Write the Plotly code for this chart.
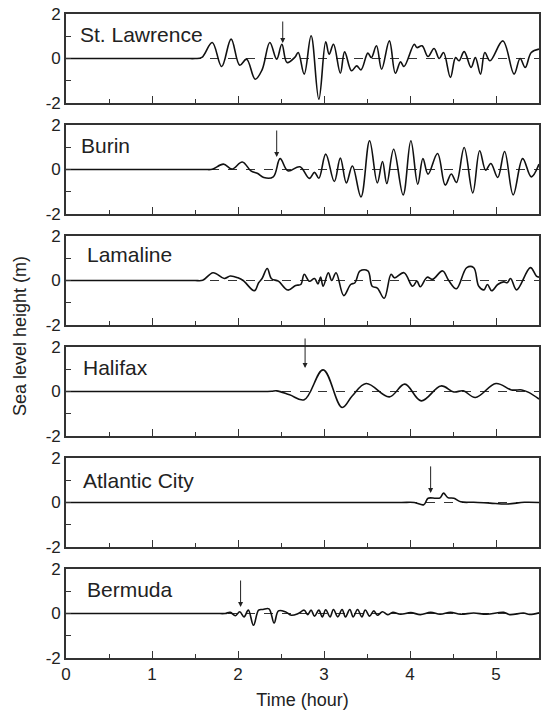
import plotly.graph_objects as go
from plotly.subplots import make_subplots

# ---------------- data (time in hours, sea level in m) ----------------
stations = ["St. Lawrence", "Burin", "Lamaline", "Halifax", "Atlantic City", "Bermuda"]

stl_t = [0, 0.5, 1.0, 1.40, 1.50, 1.58, 1.70, 1.81, 1.92, 2.02, 2.10, 2.20, 2.28, 2.37, 2.45, 2.51, 2.57, 2.66, 2.70,
         2.77, 2.85, 2.94, 3.02, 3.06, 3.11, 3.19, 3.24, 3.32, 3.38, 3.43, 3.51, 3.55, 3.61, 3.67, 3.76,
         3.83, 3.89, 3.93, 4.05, 4.08, 4.14, 4.21, 4.28, 4.34, 4.39, 4.47, 4.53, 4.57, 4.63, 4.71, 4.76,
         4.82, 4.87, 4.93, 5.08, 5.21, 5.28, 5.34, 5.41, 5.50]
stl_v = [0, 0, 0, 0, 0, 0.05, 0.72, -0.36, 0.87, -0.30, -0.03, -0.93, -0.51, 0.72, -0.03, 0.64, -0.18, 0.05, 0.27,
         -0.70, 1.02, -1.83, 0.75, 0.19, 0.64, -0.66, 0.30, -0.55, -0.33, -0.51, 0.24, 0.04, 0.57, -0.48, 0.79,
         -0.66, -0.15, -0.36, 0.64, 0.49, 0.57, 0.09, 0.45, 0.0, 0.27, -0.85, 0.04, -0.10, 0.31, -0.40, 0.04,
         -0.70, 0.27, -0.10, 0.79, -0.70, 0.0, -0.40, 0.27, 0.42]

bur_t = [0, 0.5, 1.0, 1.5, 1.62, 1.70, 1.83, 1.93, 2.05, 2.15, 2.23, 2.30, 2.41, 2.49, 2.58, 2.72, 2.83, 2.89, 2.94, 3.02,
         3.12, 3.19, 3.26, 3.33, 3.43, 3.53, 3.62, 3.68, 3.73, 3.81, 3.92, 4.01, 4.09, 4.15, 4.21, 4.32,
         4.41, 4.48, 4.54, 4.63, 4.73, 4.81, 4.88, 4.94, 5.02, 5.10, 5.20, 5.31, 5.41, 5.50]
bur_v = [0, 0, 0, 0, 0, 0.01, 0.24, 0.02, 0.34, -0.06, -0.18, -0.36, -0.33, 0.49, -0.06, 0.12, -0.40, -0.13, -0.39, 0.69,
         -0.54, 0.51, -0.60, 0.16, -1.23, 1.29, -0.60, 0.36, -0.63, 0.91, -1.14, 1.29, -0.66, 0.49, -0.21, 0.72,
         -0.70, -0.20, -0.58, 0.99, -1.05, 0.84, -0.03, 0.27, -0.36, 0.81, -1.14, 0.49, -0.33, 0.24]

lam_t = [0, 0.5, 1.0, 1.4, 1.50, 1.59, 1.71, 1.84, 1.91, 2.00, 2.06, 2.19, 2.24, 2.28, 2.34, 2.39, 2.47, 2.58, 2.67, 2.73,
         2.77, 2.83, 2.89, 2.93, 2.96, 2.99, 3.05, 3.09, 3.14, 3.23, 3.31, 3.36, 3.42, 3.51, 3.56, 3.62,
         3.70, 3.78, 3.82, 3.93, 4.03, 4.08, 4.12, 4.20, 4.26, 4.38, 4.45, 4.54, 4.66, 4.74, 4.80, 4.86,
         4.90, 4.95, 5.02, 5.09, 5.13, 5.17, 5.24, 5.40, 5.47, 5.50]
lam_v = [0, 0, 0, 0, 0, 0.01, 0.35, 0.09, 0.20, 0.12, 0.0, -0.46, -0.10, 0.09, 0.54, 0.08, -0.03, -0.43, -0.22, -0.18,
         0.28, -0.03, 0.09, -0.15, 0.15, -0.26, 0.35, 0.0, 0.35, -0.68, -0.18, -0.10, 0.43, 0.43, -0.26, -0.34,
         -0.80, 0.28, 0.12, 0.35, -0.26, -0.03, -0.28, 0.15, 0.05, 0.43, 0.0, -0.37, 0.58, 0.58, -0.26, -0.42,
         -0.18, -0.46, -0.18, -0.06, -0.10, 0.09, -0.42, 0.58, 0.20, 0.15]

hal_t = [0, 0.5, 1.0, 1.5, 2.0, 2.25, 2.39, 2.45, 2.60, 2.77, 2.99, 3.21, 3.33, 3.49, 3.76, 3.94, 4.13, 4.36, 4.51, 4.62, 4.76, 5.00,
         5.18, 5.30, 5.38, 5.50]
hal_v = [0, 0, 0, 0, 0, 0, 0.01, 0.03, -0.15, -0.37, 0.97, -0.72, -0.19, 0.36, -0.24, 0.33, -0.42, 0.25, -0.02, 0.03, -0.27, 0.36,
         0.07, 0.07, -0.04, -0.34]

atl_t = [0, 0.5, 1.0, 1.5, 2.0, 2.5, 3.0, 3.5, 3.9, 4.05, 4.16, 4.21, 4.30, 4.35, 4.39, 4.44, 4.51, 4.59, 4.74, 4.93, 5.13, 5.33, 5.50]
atl_v = [0, 0, 0, 0, 0, 0, 0, 0, 0, 0, -0.10, 0.19, 0.19, 0.21, 0.42, 0.22, 0.19, 0.03, 0.01, -0.03, -0.07, 0.01, 0.0]

ber_t = [0, 0.5, 1.0, 1.5, 1.75, 1.85, 1.91, 1.97, 2.02, 2.07, 2.12, 2.18, 2.24, 2.29, 2.36, 2.42, 2.47, 2.55, 2.62, 2.70,
         2.77, 2.81, 2.85, 2.89, 2.94, 2.98, 3.02, 3.07, 3.11, 3.16, 3.21, 3.25, 3.30, 3.34, 3.39, 3.44,
         3.48, 3.53, 3.58, 3.62, 3.68, 3.74, 3.80, 3.89, 4.01, 4.12, 4.24, 4.35, 4.47, 4.59, 4.74, 4.89,
         5.09, 5.16, 5.32, 5.39, 5.50]
ber_v = [0, 0, 0, 0, 0, 0, 0.05, -0.10, 0.08, -0.15, 0.15, -0.53, 0.15, 0.18, 0.21, -0.43, 0.12, 0.08, -0.08, 0.0,
         0.15, -0.05, 0.15, -0.12, 0.15, -0.15, 0.17, -0.15, 0.18, -0.15, 0.18, -0.15, 0.18, -0.15, 0.18, -0.15,
         0.16, -0.12, 0.12, -0.08, 0.08, -0.05, 0.05, -0.03, 0.04, -0.05, 0.05, -0.03, 0.05, -0.03, 0.02, -0.03,
         0.05, -0.05, 0.02, -0.04, 0.03]

series_t = [stl_t, bur_t, lam_t, hal_t, atl_t, ber_t]
series_v = [stl_v, bur_v, lam_v, hal_v, atl_v, ber_v]

# arrival arrows: time, arrow top, arrow tip (None = no arrow)
arrow_t = [2.52, 2.45, None, 2.78, 4.24, 2.03]
arrow_top = [1.73, 1.82, None, 2.45, 1.69, 1.55]
arrow_tip = [0.70, 0.56, None, 1.06, 0.43, 0.29]

label_x = [0.14, 0.15, 0.22, 0.18, 0.17, 0.22]
label_y = [1.06, 1.10, 1.19, 1.06, 1.01, 1.06]

zero_t = [0, 5.5]
zero_v = [0, 0]

x_major = [0, 1, 2, 3, 4, 5]
y_major = [-2, 0, 2]
y_labels = ["-2", "0", "2"]

# ---------------- figure ----------------
FONT = "Liberation Sans, Arial, Helvetica, sans-serif"
fig = make_subplots(rows=6, cols=1, shared_xaxes=True, vertical_spacing=22 / 644)

for i in range(6):
    r = i + 1
    fig.add_trace(go.Scatter(x=zero_t, y=zero_v, mode="lines",
                             line=dict(color="#333", width=1, dash="dash"),
                             showlegend=False, hoverinfo="skip"), row=r, col=1)
    fig.add_trace(go.Scatter(x=series_t[i], y=series_v[i], mode="lines",
                             line=dict(color="#111", width=1.6, shape="spline", smoothing=1.05),
                             showlegend=False), row=r, col=1)
    xref = "x" if r == 1 else f"x{r}"
    yref = "y" if r == 1 else f"y{r}"
    fig.add_annotation(x=label_x[i], y=label_y[i], xref=xref, yref=yref, text=stations[i],
                       showarrow=False, xanchor="left", yanchor="middle",
                       font=dict(family=FONT, size=21, color="#222"))
    if arrow_t[i] is not None:
        fig.add_annotation(x=arrow_t[i], y=arrow_tip[i], ax=arrow_t[i], ay=arrow_top[i],
                           xref=xref, yref=yref, axref=xref, ayref=yref, text="",
                           showarrow=True, arrowhead=2, arrowsize=1, arrowwidth=1,
                           arrowcolor="#222")
    fig.update_yaxes(row=r, col=1, range=[-2, 2], tickvals=y_major, ticktext=y_labels,
                     ticks="inside", ticklen=5,
                     showline=True, mirror=True, linecolor="#333", linewidth=1.6,
                     showgrid=False, zeroline=False,
                     minor=dict(dtick=1, ticks="inside", ticklen=5, tickcolor="#333"),
                     tickcolor="#333",
                     tickfont=dict(family=FONT, size=17, color="#222"))
    fig.update_xaxes(row=r, col=1, range=[0, 5.5], tickvals=x_major, ticks="inside", ticklen=7,
                     showline=True, mirror=True, linecolor="#333", linewidth=1.6,
                     showgrid=False, zeroline=False, tickcolor="#333",
                     minor=dict(dtick=0.5, ticks="inside", ticklen=4, tickcolor="#333"),
                     showticklabels=(r == 6),
                     tickfont=dict(family=FONT, size=17, color="#222"))

fig.update_xaxes(row=6, col=1, title=dict(text="Time (hour)", standoff=10,
                                          font=dict(family=FONT, size=18, color="#222")))

fig.add_annotation(x=-0.097, y=0.5, xref="paper", yref="paper", text="Sea level height (m)",
                   textangle=-90, showarrow=False, xanchor="center", yanchor="middle",
                   font=dict(family=FONT, size=18, color="#222"))

fig.update_layout(width=544, height=717, margin=dict(l=66, r=3, t=14, b=59),
                  plot_bgcolor="white", paper_bgcolor="white",
                  font=dict(family=FONT, color="#222"), hovermode=False)

fig.write_html("out.html", config={"displayModeBar": False},
               post_script="document.body.style.margin='0';document.body.style.overflow='hidden';")
